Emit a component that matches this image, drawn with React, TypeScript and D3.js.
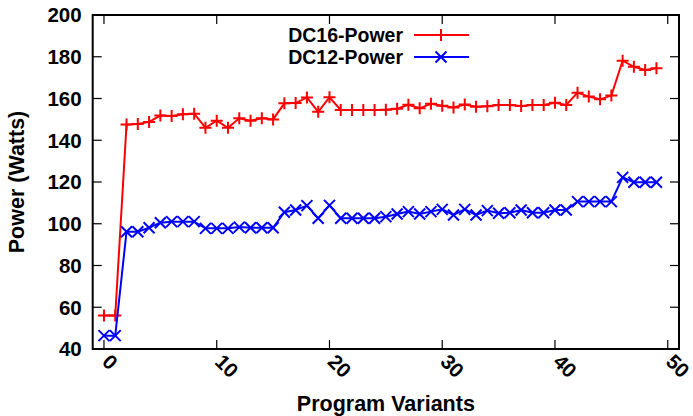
import React from "react";
import * as d3 from "d3";

// values (program variant index 0..49)
const variants = d3.range(0, 50);
const dc16Power = [
  56, 56, 147.5, 147.8, 148.8, 151.8, 151.6, 152.4, 152.7, 146.0,
  149.4, 146.0, 150.5, 149.4, 150.5, 150.0, 157.7, 157.8, 160.5, 153.6,
  160.6, 154.5, 154.5, 154.5, 154.5, 154.6, 155.1, 157.0, 155.3, 157.5,
  156.5, 155.7, 157.1, 156.1, 156.3, 156.9, 156.9, 156.4, 156.9, 156.9,
  158.0, 156.9, 162.8, 160.9, 159.6, 161.4, 178.1, 175.2, 173.7, 174.5,
];
const dc12Power = [
  46.4, 46.4, 96.2, 96.2, 98.1, 100.5, 101.0, 101.0, 101.0, 97.8,
  97.8, 97.8, 98.4, 98.1, 98.1, 98.1, 105.5, 106.6, 108.7, 102.6,
  108.8, 102.6, 102.6, 102.6, 102.6, 103.4, 104.7, 105.8, 104.7, 105.8,
  106.9, 104.2, 106.9, 104.2, 106.3, 105.0, 105.3, 106.6, 105.3, 105.3,
  106.6, 106.6, 110.6, 110.6, 110.6, 110.6, 122.2, 119.9, 119.9, 119.9,
];
const xTicks = [0, 10, 20, 30, 40, 50];
const yTicks = [40, 60, 80, 100, 120, 140, 160, 180, 200];

const W = 693;
const H = 416;
const left = 92.7, right = 679, top = 15, bottom = 349;
const font = "'Liberation Sans', Arial, sans-serif";

const plusPath = "M-6,0H6M0,-6V6";
const crossPath = "M-5.5,-5.5L5.5,5.5M-5.5,5.5L5.5,-5.5";

export default function App() {
  const x = d3.scaleLinear().domain([-1, 51]).range([left, right]);
  const y = d3.scaleLinear().domain([40, 200]).range([bottom, top]);

  const line = d3.line<number>()
    .x((_, i) => x(variants[i]))
    .y(d => y(d));

  const series = [
    { name: "DC16-Power", values: dc16Power, color: "#ff0000", marker: plusPath },
    { name: "DC12-Power", values: dc12Power, color: "#0000ff", marker: crossPath },
  ];

  const tickLen = 9;

  return (
    <svg width={W} height={H} style={{ position: "absolute", left: 0, top: 0, background: "#fff" }}>
      {/* ticks, mirrored on all four sides like gnuplot */}
      <g stroke="#000" strokeWidth={1.2}>
        {yTicks.map(t => (
          <g key={"y" + t}>
            <line x1={left} x2={left + tickLen} y1={y(t)} y2={y(t)} />
            <line x1={right} x2={right - tickLen} y1={y(t)} y2={y(t)} />
          </g>
        ))}
        {xTicks.map(t => (
          <g key={"x" + t}>
            <line x1={x(t)} x2={x(t)} y1={bottom} y2={bottom - tickLen} />
            <line x1={x(t)} x2={x(t)} y1={top} y2={top + tickLen} />
          </g>
        ))}
      </g>

      {series.map(s => (
        <g key={s.name}>
          <path d={line(s.values) || ""} fill="none" stroke={s.color} strokeWidth={2} />
          {s.values.map((v, i) => (
            <path key={i} d={s.marker} transform={`translate(${x(variants[i])},${y(v)})`}
              stroke={s.color} strokeWidth={2} fill="none" />
          ))}
        </g>
      ))}

      <rect x={left} y={top} width={right - left} height={bottom - top}
        fill="none" stroke="#000" strokeWidth={2} />

      <g fontFamily={font} fontWeight="bold" fontSize={20.5} fill="#000">
        {yTicks.map(t => (
          <text key={t} x={left - 11} y={y(t)} dy="0.36em" textAnchor="end">{t}</text>
        ))}
        {xTicks.map(t => (
          <text key={t} transform={`translate(${x(t) - 3},${bottom + 14}) rotate(45)`}
            textAnchor="start">{t}</text>
        ))}
        <text transform={`translate(24,${(top + bottom) / 2}) rotate(-90)`} textAnchor="middle"
          fontSize={21.5}>Power (Watts)</text>
        <text x={(left + right) / 2} y={411} textAnchor="middle" fontSize={21.5}>Program Variants</text>
      </g>

      {/* legend */}
      <g fontFamily={font} fontWeight="bold" fontSize={19.5}>
        {series.map((s, i) => {
          const ly = 35 + i * 22;
          return (
            <g key={s.name}>
              <text x={403} y={ly} dy="0.36em" textAnchor="end" fill="#000">{s.name}</text>
              <line x1={414} x2={469} y1={ly} y2={ly} stroke={s.color} strokeWidth={2} />
              <path d={s.marker} transform={`translate(441,${ly})`} stroke={s.color} strokeWidth={2} fill="none" />
            </g>
          );
        })}
      </g>
    </svg>
  );
}
